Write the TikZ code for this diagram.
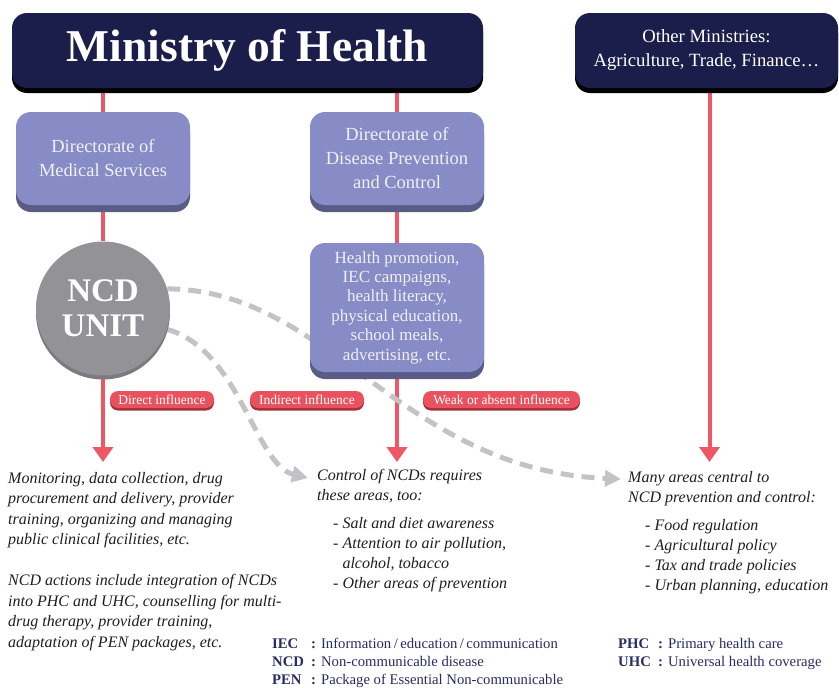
\documentclass[tikz,border=0pt]{standalone}
\usepackage{fontspec}
\setmainfont{Liberation Serif}
\usetikzlibrary{arrows.meta,backgrounds,shadows}
\definecolor{navy}{RGB}{27,29,74}
\definecolor{lav}{RGB}{136,140,198}
\definecolor{lavdark}{RGB}{88,92,134}
\definecolor{circgray}{RGB}{146,146,151}
\definecolor{circdark}{RGB}{122,122,128}
\definecolor{redl}{RGB}{238,88,100}
\definecolor{pillred}{RGB}{232,82,94}
\definecolor{pilldark}{RGB}{160,48,58}
\definecolor{dashgray}{RGB}{195,195,199}
\definecolor{abbrnavy}{RGB}{40,43,100}
\definecolor{boxtext}{RGB}{240,240,248}
\definecolor{bodytext}{RGB}{30,30,30}
\tikzset{
  ministry/.style={fill=navy, rounded corners=15pt, text=white, align=center, inner sep=0pt,
    drop shadow={shadow xshift=0pt, shadow yshift=-5pt, fill=black, opacity=1}},
  dirbox/.style={fill=lav, rounded corners=15pt, text=boxtext, align=center, inner sep=0pt,
    minimum width=174pt, drop shadow={shadow xshift=0pt, shadow yshift=-7pt, fill=lavdark, opacity=1}},
  ncdcircle/.style={circle, fill=circgray, text=white, align=center, inner sep=0pt, minimum size=134pt,
    font=\fontsize{33}{35}\selectfont\bfseries,
    drop shadow={shadow xshift=0pt, shadow yshift=-4pt, fill=circdark, opacity=1}},
  pill/.style={fill=pillred, rounded corners=8pt, text=white, inner sep=0pt, minimum height=17pt,
    font=\fontsize{13.5}{14}\selectfont,
    drop shadow={shadow xshift=0pt, shadow yshift=-2.5pt, fill=pilldark, opacity=1}},
  redline/.style={draw=redl, line width=4pt},
  redarrow/.style={draw=redl, line width=4pt, -{Triangle[width=20pt,length=15pt]}},
  grayarrow/.style={draw=dashgray, line width=5pt, dash pattern=on 13pt off 8pt,
    -{Triangle[width=16pt,length=16pt]}},
  bodyblock/.style={anchor=north west, inner sep=0pt, align=left, text=bodytext,
    font=\fontsize{16}{20.5}\selectfont\itshape},
  abbr/.style={anchor=north west, inner sep=0pt, align=left, text=abbrnavy,
    font=\fontsize{14.7}{18}\selectfont},
}
\begin{document}
\begin{tikzpicture}[x=1pt,y=-1pt]
\useasboundingbox (0,0) rectangle (839,688);

% boxes
\node[ministry, minimum width=471pt, minimum height=75pt, font=\fontsize{45.5}{48}\selectfont\bfseries] (moh) at (247.5,50.5) {Ministry of Health};
\node[ministry, minimum width=263pt, minimum height=75pt, font=\fontsize{18.7}{24}\selectfont] (oth) at (706.5,50.5) {Other Ministries:\\Agriculture, Trade, Finance…};

\node[dirbox, minimum height=93pt, font=\fontsize{18.5}{24}\selectfont] (dms) at (103,158.5) {Directorate of\\Medical Services};
\node[dirbox, minimum height=93pt, font=\fontsize{18.5}{24}\selectfont] (ddp) at (397,158.5) {Directorate of\\Disease Prevention\\and Control};
\node[dirbox, minimum height=129pt, font=\fontsize{17}{19.4}\selectfont] (hp) at (397,307.5) {Health promotion,\\IEC campaigns,\\health literacy,\\physical education,\\school meals,\\advertising, etc.};

\node[ncdcircle] (ncd) at (103,308.5) {NCD\\UNIT};

% influence labels
\node[pill, minimum width=104pt] (l1) at (162,399.5) {Direct influence};
\node[pill, minimum width=114pt] (l2) at (307,399.5) {Indirect influence};
\node[pill, minimum width=157pt] (l3) at (501.5,399.5) {Weak or absent influence};

% arrow end points
\coordinate (t1) at (103,462);
\coordinate (t2) at (397,462);
\coordinate (t3) at (709.5,462);
\coordinate (g1) at (308,478);
\coordinate (g2) at (621,479);

% text blocks
\node[bodyblock] (txl) at (8,472) {Monitoring, data collection, drug\\procurement and delivery, provider\\training, organizing and managing\\public clinical facilities, etc.\\[20.5pt]NCD actions include integration of NCDs\\into PHC and UHC, counselling for multi-\\drug therapy, provider training,\\adaptation of PEN packages, etc.};
\node[bodyblock, font=\fontsize{16}{20}\selectfont\itshape] (txm) at (317,469) {Control of NCDs requires\\these areas, too:\\[8pt]\hspace*{16pt}- Salt and diet awareness\\\hspace*{16pt}- Attention to air pollution,\\\hspace*{16pt}\phantom{- }alcohol, tobacco\\\hspace*{16pt}- Other areas of prevention};
\node[bodyblock, font=\fontsize{16}{20}\selectfont\itshape] (txr) at (628,471) {Many areas central to\\NCD prevention and control:\\[8pt]\hspace*{17pt}- Food regulation\\\hspace*{17pt}- Agricultural policy\\\hspace*{17pt}- Tax and trade policies\\\hspace*{17pt}- Urban planning, education};

\node[abbr] (abm) at (272,638) {\makebox[39pt][l]{\textbf{IEC}}\textbf{:}\hspace{5pt}Information\,/\,education\,/\,communication\\\makebox[39pt][l]{\textbf{NCD}}\textbf{:}\hspace{5pt}Non-communicable disease\\\makebox[39pt][l]{\textbf{PEN}}\textbf{:}\hspace{5pt}Package of Essential Non-communicable};
\node[abbr] (abr) at (618,638) {\makebox[40pt][l]{\textbf{PHC}}\textbf{:}\hspace{5pt}Primary health care\\\makebox[40pt][l]{\textbf{UHC}}\textbf{:}\hspace{5pt}Universal health coverage};

% connectors
\begin{scope}[on background layer]
\draw[redline] (moh.south -| dms.north) -- (dms.north);
\draw[redline] (dms.south) -- (ncd.north);
\draw[redarrow] (ncd.south) -- (t1);
\draw[redline] (moh.south -| ddp.north) -- (ddp.north);
\draw[redline] (ddp.south) -- (hp.north);
\draw[redarrow] (hp.south) -- (t2);
\draw[redarrow] (oth.south -| t3) -- (t3);
\draw[grayarrow] (ncd.17) .. controls (330,290) and (400,470) .. (g2);
\draw[grayarrow] (ncd.-18) .. controls (240,350) and (255,465) .. (g1);
\end{scope}
\end{tikzpicture}
\end{document}
